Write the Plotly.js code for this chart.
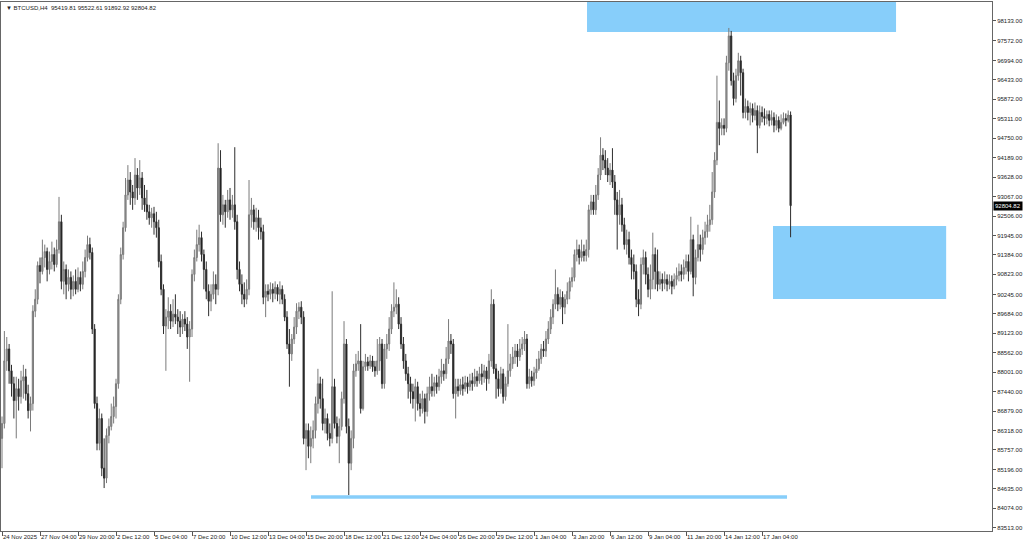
<!DOCTYPE html>
<html>
<head>
<meta charset="utf-8">
<script src="https://cdn.plot.ly/plotly-3.0.1.min.js"></script>
<style>
  html, body { margin: 0; padding: 0; background: #ffffff; }
  #chart { width: 1024px; height: 546px; }
</style>
</head>
<body>
<div id="chart"></div>
<script>
// ---- BTCUSD H4 candles ----
var opens = [
86091,86521,88327,88672,88041,87668,87181,87525,87296,87754,
87869,87381,86894,87095,89761,90105,91080,90908,91309,91481,
90965,91195,91395,91108,91539,92341,90621,90965,90535,90736,
90392,90621,90392,90736,90535,90908,91309,91682,91453,89245,
87095,85948,86665,85231,84944,86177,86435,86722,87009,87668,
90105,91395,92169,93115,93545,93201,93029,93689,93316,93603,
93029,92829,92628,92456,92571,92341,92169,91195,90392,89331,
89589,89761,89474,89675,89589,89474,89302,89532,89388,89016,
89245,90822,91309,91682,91883,91395,90965,90335,90048,90248,
90535,90392,93889,92542,92829,92628,92972,92685,92829,92341,
90965,90535,90248,90105,90392,92542,92685,92341,92456,92169,
92055,90162,90335,90248,90392,90277,90449,90248,90392,90105,
89589,88815,88528,88958,89302,89761,89876,89589,86091,86321,
85862,86091,86321,87095,87668,87238,86521,86665,86235,86091,
87582,86521,86149,86435,87238,88815,86435,85375,86091,88041,
88241,88327,86951,88155,88299,88184,88327,88155,88041,88327,
88815,87668,88672,88815,89245,89761,89876,89962,89388,88815,
88327,87955,87668,87439,87238,87582,87095,86951,87238,86865,
87381,87582,87467,87697,87582,87869,88041,87955,88385,88901,
88815,87381,87582,87467,87639,87525,87697,87582,87754,87668,
87869,87754,87955,87869,88041,87811,88327,89962,88098,87811,
87525,87955,87296,87668,88041,88241,88442,88614,88442,88672,
88815,88958,87668,87869,87754,87983,88098,88385,88672,88614,
88958,89245,89589,89962,90248,89962,90162,89876,90105,90335,
90621,90736,91395,91539,91309,91481,91367,91539,92685,92915,
92685,93115,93689,94262,94119,93889,93689,93832,93488,92972,
92542,92829,92255,91682,91825,91309,91108,90908,90105,89962,
91108,91309,90822,90392,90678,91395,90908,90535,90678,90564,
90678,90535,90621,90478,90678,90793,90908,90822,91023,91195,
90908,91825,90736,91309,91682,91539,91883,92055,92255,92399,
93201,94119,95208,95036,95122,95036,96929,97703,96412,95896,
96556,96986,96642,95495,95667,95495,95610,95409,95552,95122,
95495,95380,95323,95438,95266,95352,95122,95266,95036,95208,
95323,95266,95419.81
];
var highs = [
86722,89188,89016,88815,88213,87869,87869,87811,88041,88213,
88098,87639,87296,89933,90392,91195,91309,91825,91682,91596,
91481,91768,91596,91825,93058,92542,91195,91108,90965,90908,
90793,90965,91023,90908,91195,91539,91940,91883,91596,89388,
87296,86951,86808,86091,86378,86665,87095,87296,87811,90248,
91596,92341,93603,93975,93775,93402,94177,93889,94119,93775,
93402,93259,92829,92743,92771,92628,92399,91395,90535,89818,
90162,89962,90105,90248,89818,89761,89675,89761,89589,89474,
90965,91539,92112,92255,92055,91539,91195,90535,90535,90908,
90822,94606,94406,93115,92972,93259,93316,93115,94492,92542,
91195,90822,90592,90678,93545,93029,92829,92743,92685,92456,
92255,90535,90535,90592,90564,90621,90535,90621,90506,90248,
89761,89245,89102,89589,89990,90019,90048,89761,86521,86521,
86435,86607,87296,88098,87869,87811,86951,86808,86521,90335,
87811,86722,86665,87439,89474,88958,86665,86321,88241,88528,
88614,89388,88327,88528,88442,88500,88471,88327,88958,89016,
88958,88815,89102,89589,89962,90592,90392,90162,89589,89016,
88528,88155,87869,87668,87811,87725,87381,87467,87381,87582,
87869,87955,87869,87926,88098,88385,88241,88729,89532,89102,
88958,87811,87811,87811,87869,87897,87869,87955,87983,88098,
88041,88155,88241,88213,88155,88528,90392,90105,88241,88041,
88155,88098,87869,89388,88528,88729,88815,88815,88958,89016,
89188,89102,88098,88041,88155,88385,88614,88815,88901,89188,
89474,89818,90105,90965,90449,90392,90335,90248,90592,90736,
91023,91539,91825,91682,91825,91682,91825,92829,93115,93115,
93402,93889,94778,94463,94406,94177,94033,94463,93689,93201,
93259,93029,92456,92112,92055,91539,91395,91108,90392,91309,
91539,91481,91023,91108,92026,91596,91539,90908,90850,90908,
90822,90822,90793,90850,91023,91137,91108,91252,91395,91395,
92485,91968,91539,92255,91968,92112,92341,92542,92829,93775,
94348,96556,95839,95323,95323,97129,97932,97846,96642,96756,
97215,97129,96756,95896,95839,95782,95753,95782,95696,95696,
95667,95610,95552,95552,95552,95495,95438,95380,95438,95495,
95466,95552,95522.61
];
var lows = [
85231,86378,88041,87668,87296,86665,86091,86894,87095,87238,
87181,86665,86292,86894,89589,89962,90564,90822,91023,90621,
90822,90965,90908,91023,91424,90392,90248,90105,90335,90105,
90191,90248,90306,90335,90392,90736,91195,91252,89102,86951,
85747,85747,85002,84658,84801,85948,86321,86521,86665,87525,
89962,91252,92055,92972,92829,92685,92829,92972,93115,92685,
92628,92399,92255,92169,91968,91883,91023,90220,89102,88041,
89245,89245,89302,89388,89102,89016,89102,89188,88672,87725,
89016,90621,91195,91481,91195,90392,90105,89617,89761,90105,
89962,90220,92341,92255,92169,92456,92399,92456,92112,90678,
90335,89962,89876,89962,90220,92169,92112,92055,91825,91825,
89962,89589,90048,90105,90019,90105,90048,89962,89962,89474,
88672,87582,88327,88815,89102,89532,89388,85919,85174,85518,
85375,85805,86091,86808,86951,86321,86235,86034,85862,85948,
86378,85948,85375,86321,87095,86235,84457,85174,85805,87869,
88041,86808,86894,88041,88041,88098,88012,87869,87926,88041,
87525,87525,88385,88614,89102,89589,89675,89245,88672,88098,
87754,87238,87095,86951,86579,86894,86722,86808,86521,86722,
87181,87296,87296,87381,87467,87668,87754,87811,88241,88528,
87238,86665,87296,87353,87324,87439,87381,87467,87467,87582,
87582,87668,87639,87697,87467,87668,88155,87955,87238,87296,
87381,87095,87181,87582,87869,88098,88241,88155,88327,88500,
88614,87525,87525,87582,87611,87811,88041,88241,88442,88442,
88815,89102,89388,89818,89761,89818,89388,89675,89962,90105,
90449,90621,91195,91108,91195,91195,91195,91309,92542,92542,
92542,92972,93545,93832,93689,93488,93402,93316,92542,91539,
92255,92055,91539,91395,91108,90678,90678,89876,89617,89818,
90822,90535,90162,90105,90392,90392,90335,90392,90335,90392,
90335,90392,90248,90392,90506,90621,90621,90678,90822,90621,
90822,90191,90535,91195,91195,91395,91682,91883,92055,92255,
93029,93975,94549,94836,94836,94922,96699,96269,95696,95782,
96412,95982,95323,95323,95266,95122,95208,95266,94320,95036,
95208,95122,95151,95094,95122,94922,94979,94922,94979,95151,
95094,95208,91892.92
];
var closes = [
86521,88327,88672,88041,87668,87181,87525,87296,87754,87869,
87381,86894,87095,89761,90105,91080,90908,91309,91481,90965,
91195,91395,91108,91539,92341,90621,90965,90535,90736,90392,
90621,90392,90736,90535,90908,91309,91682,91453,89245,87095,
85948,86665,85231,84944,86177,86435,86722,87009,87668,90105,
91395,92169,93115,93545,93201,93029,93689,93316,93603,93029,
92829,92628,92456,92571,92341,92169,91195,90392,89331,89589,
89761,89474,89675,89589,89474,89302,89532,89388,89016,89245,
90822,91309,91682,91883,91395,90965,90335,90048,90248,90535,
90392,93889,92542,92829,92628,92972,92685,92829,92341,90965,
90535,90248,90105,90392,92542,92685,92341,92456,92169,92055,
90162,90335,90248,90392,90277,90449,90248,90392,90105,89589,
88815,88528,88958,89302,89761,89876,89589,86091,86321,85862,
86091,86321,87095,87668,87238,86521,86665,86235,86091,87582,
86521,86149,86435,87238,88815,86435,85375,86091,88041,88241,
88327,86951,88155,88299,88184,88327,88155,88041,88327,88815,
87668,88672,88815,89245,89761,89876,89962,89388,88815,88327,
87955,87668,87439,87238,87582,87095,86951,87238,86865,87381,
87582,87467,87697,87582,87869,88041,87955,88385,88901,88815,
87381,87582,87467,87639,87525,87697,87582,87754,87668,87869,
87754,87955,87869,88041,87811,88327,89962,88098,87811,87525,
87955,87296,87668,88041,88241,88442,88614,88442,88672,88815,
88958,87668,87869,87754,87983,88098,88385,88672,88614,88958,
89245,89589,89962,90248,89962,90162,89876,90105,90335,90621,
90736,91395,91539,91309,91481,91367,91539,92685,92915,92685,
93115,93689,94262,94119,93889,93689,93832,93488,92972,92542,
92829,92255,91682,91825,91309,91108,90908,90105,89962,91108,
91309,90822,90392,90678,91395,90908,90535,90678,90564,90678,
90535,90621,90478,90678,90793,90908,90822,91023,91195,90908,
91825,90736,91309,91682,91539,91883,92055,92255,92399,93201,
94119,95208,95036,95122,95036,96929,97703,96412,95896,96556,
96986,96642,95495,95667,95495,95610,95409,95552,95122,95495,
95380,95323,95438,95266,95352,95122,95266,95036,95208,95323,
95266,95419.81,92804.82
];

// time axis labels (every 16 bars)
var timeTickBars = [0,16,32,48,64,80,96,112,128,144,160,176,192,208,224,240,256,272,288,304,320];
var timeTickLabels = ['24 Nov 2025','27 Nov 04:00','29 Nov 20:00','2 Dec 12:00','5 Dec 04:00','7 Dec 20:00',
  '10 Dec 12:00','13 Dec 04:00','15 Dec 20:00','18 Dec 12:00','21 Dec 12:00','24 Dec 04:00','26 Dec 20:00',
  '29 Dec 12:00','1 Jan 04:00','3 Jan 20:00','6 Jan 12:00','9 Jan 04:00','11 Jan 20:00','14 Jan 12:00','17 Jan 04:00'];

// price axis labels
var priceTicks = [98133,97572,96994,96433,95872,95311,94750,94189,93628,93067,92506,91945,91384,
  90823,90245,89684,89123,88562,88001,87440,86879,86318,85757,85196,84635,84074,83513];

var symbolTitle = 'BTCUSD,H4';
var lastPrice = 92804.82;

// ---- build ----
var barIndex = closes.map(function (_, i) { return i; });
var priceText = priceTicks.map(function (v) { return v.toFixed(2); });
var ohlcText = [opens[opens.length-1], highs[highs.length-1], lows[lows.length-1], closes[closes.length-1]]
  .map(function (v) { return v.toFixed(2); }).join(' ');

var trace = {
  type: 'candlestick',
  x: barIndex, open: opens, high: highs, low: lows, close: closes,
  increasing: { line: { color: '#7a7a7a', width: 1 }, fillcolor: '#9a9a9a' },
  decreasing: { line: { color: '#2e2e2e', width: 1 }, fillcolor: '#111111' },
  whiskerwidth: 0,
  hoverinfo: 'skip',
  showlegend: false
};

var zoneColor = '#87cefa';
var layout = {
  width: 1024, height: 546,
  margin: { l: 1, r: 32, t: 2, b: 15, pad: 0 },
  paper_bgcolor: '#ffffff', plot_bgcolor: '#ffffff',
  font: { family: 'Liberation Sans, Arial, sans-serif', size: 6, color: '#222222' },
  showlegend: false,
  boxgap: 0.3,
  xaxis: {
    range: [-0.42, 416.8],
    rangeslider: { visible: false },
    tickmode: 'array', tickvals: timeTickBars, ticktext: timeTickLabels,
    tickangle: 0,
    ticks: 'outside', ticklen: 4, tickcolor: '#555555', tickwidth: 1,
    ticklabelposition: 'outside right',
    ticklabelstandoff: 0,
    tickfont: { size: 6, color: '#222222' },
    showgrid: false, zeroline: false,
    showline: true, mirror: true, linecolor: '#666666', linewidth: 1,
    fixedrange: true
  },
  yaxis: {
    side: 'right',
    range: [83419, 98681],
    tickmode: 'array', tickvals: priceTicks, ticktext: priceText,
    ticks: 'outside', ticklen: 3, tickcolor: '#555555', tickwidth: 1,
    tickfont: { size: 6, color: '#222222' },
    showgrid: false, zeroline: false,
    showline: true, mirror: true, linecolor: '#666666', linewidth: 1,
    fixedrange: true
  },
  shapes: [
    { type: 'rect', xref: 'x', yref: 'y', x0: 246.3, x1: 376.4, y0: 97816, y1: 99500,
      fillcolor: zoneColor, line: { width: 0 }, layer: 'below' },
    { type: 'rect', xref: 'x', yref: 'y', x0: 324.6, x1: 397.5, y0: 90113, y1: 92219,
      fillcolor: zoneColor, line: { width: 0 }, layer: 'below' },
    { type: 'line', xref: 'x', yref: 'y', x0: 130.1, x1: 330.5, y0: 84400, y1: 84400,
      line: { color: zoneColor, width: 3.5 }, layer: 'below' }
  ],
  annotations: [
    { xref: 'paper', yref: 'paper', x: 0, y: 1, xanchor: 'left', yanchor: 'top',
      xshift: 3, yshift: -1, showarrow: false,
      text: '\u25BC ' + symbolTitle + '  ' + ohlcText,
      font: { size: 6, color: '#222222' } },
    { xref: 'paper', yref: 'y', x: 1, y: lastPrice, xanchor: 'left', yanchor: 'middle',
      xshift: 1, showarrow: false, text: lastPrice.toFixed(2),
      bgcolor: '#000000', borderpad: 1, font: { size: 6, color: '#ffffff' } }
  ]
};

Plotly.newPlot('chart', [trace], layout, { staticPlot: true, displayModeBar: false });
</script>
</body>
</html>
